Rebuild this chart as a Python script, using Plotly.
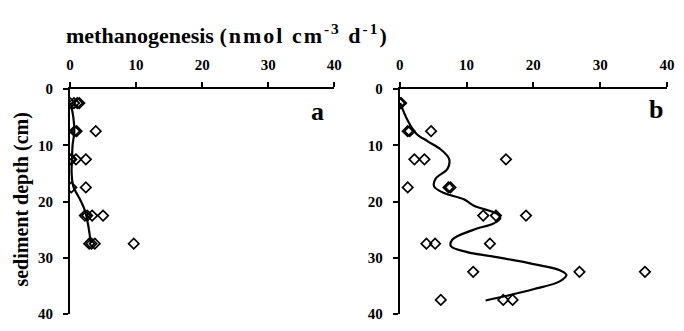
import plotly.graph_objects as go

# ---- data ----
# Panel a: measured rates (x) at depth (y)
a_depth = [2.5, 2.5, 2.5, 2.5, 7.5, 7.5, 7.5, 12.5, 12.5, 12.5, 12.5, 17.5, 17.5,
           22.5, 22.5, 22.5, 22.5, 27.5, 27.5, 27.5, 27.5]
a_rate = [0.0, 0.6, 1.1, 1.4, 0.7, 1.0, 3.9, 0.0, 0.2, 0.9, 2.4, 0.2, 2.4,
          2.25, 2.6, 3.35, 5.0, 2.9, 3.25, 3.75, 9.65]
# Panel a: smoothed profile
a_fit_depth = [2.5, 5.0, 7.6, 9.9, 12.5, 15.0, 17.3, 19.6, 21.6, 24.2, 27.4]
a_fit_rate = [0.1, 0.5, 0.65, 0.4, 0.3, 0.25, 0.5, 1.5, 2.25, 2.75, 3.15]

# Panel b: measured rates
b_depth = [2.5, 2.5, 2.5, 7.5, 7.5, 7.5, 12.5, 12.5, 12.5, 17.5, 17.5, 17.5,
           22.5, 22.5, 22.5, 27.5, 27.5, 27.5, 32.5, 32.5, 32.5, 37.5, 37.5, 37.5]
b_rate = [0.0, 0.1, 0.2, 1.2, 1.5, 4.7, 2.2, 3.7, 15.9, 1.2, 7.3, 7.6,
          12.5, 14.4, 18.9, 4.0, 5.3, 13.5, 11.0, 26.9, 36.7, 6.15, 15.5, 16.9]
# Panel b: smoothed profile
b_fit_depth = [2.45, 5.6, 7.9, 9.3, 10.75, 12.45, 14.2, 15.9, 17.3, 18.5, 19.6,
               20.75, 22.2, 23.0, 23.9, 25.0, 26.75, 27.9, 29.0, 29.9, 31.0,
               32.2, 33.05, 34.2, 35.6, 36.75, 37.6]
b_fit_rate = [0.07, 1.2, 2.45, 4.2, 6.15, 7.4, 7.15, 5.4, 5.15, 6.65, 9.6,
              11.1, 14.6, 15.05, 14.05, 11.1, 7.9, 7.65, 10.1, 14.55, 19.5,
              23.95, 24.95, 23.95, 20.0, 16.05, 12.85]

x_ticks = [0, 10, 20, 30, 40]
y_ticks = [0, 10, 20, 30, 40]
title_main = "methanogenesis"
title_units = "(nmol cm<sup>-3</sup> d<sup>-1</sup>)"
y_title = "sediment depth (cm)"
panel_labels = ["a", "b"]

FONT = "Liberation Serif, Times New Roman, Tinos, DejaVu Serif, serif"

fig = go.Figure()

marker = dict(symbol="diamond-open", size=8, color="black", line=dict(width=1.7, color="black"))
linestyle = dict(color="black", width=2.2, shape="spline", smoothing=1.0)

fig.add_trace(go.Scatter(x=a_rate, y=a_depth, mode="markers", marker=marker,
                         xaxis="x", yaxis="y", showlegend=False))
fig.add_trace(go.Scatter(x=a_fit_rate, y=a_fit_depth, mode="lines", line=linestyle,
                         xaxis="x", yaxis="y", showlegend=False))
fig.add_trace(go.Scatter(x=b_rate, y=b_depth, mode="markers", marker=marker,
                         xaxis="x2", yaxis="y2", showlegend=False))
fig.add_trace(go.Scatter(x=b_fit_rate, y=b_fit_depth, mode="lines", line=linestyle,
                         xaxis="x2", yaxis="y2", showlegend=False))

tickfont = dict(family=FONT, size=15, color="black", weight="bold")

xcommon = dict(range=[0, 40], tickvals=x_ticks, side="top", showgrid=False, zeroline=False,
               showline=True, linecolor="black", linewidth=2, ticks="outside", ticklen=5,
               tickwidth=2, tickcolor="black", tickfont=tickfont, ticklabelstandoff=6)
ycommon = dict(range=[40, 0], tickvals=y_ticks, showgrid=False, zeroline=False,
               showline=True, linecolor="black", linewidth=2, ticks="outside", ticklen=5,
               tickwidth=2, tickcolor="black", tickfont=tickfont, ticklabelstandoff=7)

W, H = 684, 331
L, R, T, B = 70, 11, 89, 9
pw = W - L - R
xa_end = (337 - L) / pw
xb_start = (403 - L) / pw

fig.update_layout(
    width=W, height=H,
    margin=dict(l=L, r=R, t=T, b=B),
    paper_bgcolor="white", plot_bgcolor="white",
    font=dict(family=FONT, color="black"),
    xaxis=dict(domain=[0, xa_end], anchor="y", **xcommon),
    yaxis=dict(domain=[0, 1], anchor="x", **ycommon),
    xaxis2=dict(domain=[xb_start, 1], anchor="y2", **xcommon),
    yaxis2=dict(domain=[0, 1], anchor="x2", **ycommon),
)

ph = H - T - B
title_text = (title_main + " <span style='letter-spacing:2px'>"
              + title_units + "</span>")
fig.add_annotation(text=title_text, xref="paper", yref="paper",
                   x=(64 - L) / pw, y=(H - B - 32) / ph, xanchor="left", yanchor="middle",
                   showarrow=False, font=dict(family=FONT, size=22, color="black", weight="bold"))
fig.add_annotation(text=y_title, xref="paper", yref="paper",
                   x=(21 - L) / pw, y=(H - B - 203) / ph, xanchor="center", yanchor="middle",
                   textangle=-90, showarrow=False,
                   font=dict(family=FONT, size=20, color="black", weight="bold"))
fig.add_annotation(text=panel_labels[0], xref="x domain", yref="y domain", x=0.937, y=0.90,
                   xanchor="center", yanchor="middle", showarrow=False,
                   font=dict(family=FONT, size=26, color="black", weight="bold"))
fig.add_annotation(text=panel_labels[1], xref="x2 domain", yref="y2 domain", x=0.96, y=0.91,
                   xanchor="center", yanchor="middle", showarrow=False,
                   font=dict(family=FONT, size=26, color="black", weight="bold"))

fig.write_html("out.html")
